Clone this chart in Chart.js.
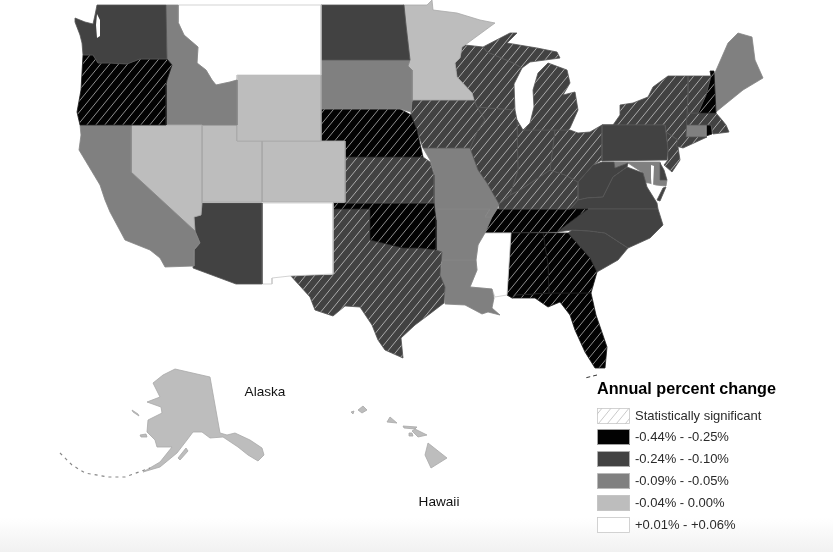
<!DOCTYPE html>
<html><head><meta charset="utf-8">
<style>
html,body{margin:0;padding:0;width:833px;height:552px;overflow:hidden;background:linear-gradient(to bottom,#fff 0,#fff 518px,#f1f1f1 552px);}
#c{position:absolute;left:0;top:0;}
</style>
<script src="https://cdn.jsdelivr.net/npm/chart.js@4"></script>
</head><body>
<div style="position:absolute;left:0;top:0;width:833px;height:552px"><canvas id="c" width="833" height="552"></canvas></div>
<script>
// Map outlines in map units
const WA=[[97,5],[166,5],[167,59],[140,59],[127,64],[110,63],[98,63],[93,55],[83,55],[82,43],[80,35],[75,22],[75,18],[85,22],[93,24],[95,15]];
const OR=[[83,55],[93,55],[98,63],[110,63],[127,64],[140,59],[167,59],[172,65],[167,80],[166,85],[166,125],[80,125],[77,112],[81,90]];
const CA=[[80,125],[131,125],[131,172],[195,231],[200,243],[194,250],[194,266],[165,267],[160,258],[150,250],[125,240],[110,212],[105,200],[100,185],[88,165],[79,150],[81,135]];
const NV=[[131,125],[202,125],[202,203],[201,215],[194,217],[195,231],[131,172]];
const ID=[[166,5],[178,5],[178,22],[184,35],[198,47],[197,63],[206,70],[212,80],[216,85],[230,82],[237,80],[237,125],[166,125],[166,85],[167,80],[172,65],[167,59]];
const MT=[[178,5],[321,5],[321,75],[237,75],[237,80],[230,82],[216,85],[212,80],[206,70],[197,63],[198,47],[184,35],[178,22]];
const WY=[[237,75],[321,75],[321,141],[237,141]];
const UT=[[202,125],[237,125],[237,141],[262,141],[262,202],[202,202]];
const CO=[[262,141],[345,141],[345,202],[262,202]];
const AZ=[[202,203],[262,203],[262,284],[236,284],[193,268],[194,250],[200,243],[195,231],[194,217],[201,215]];
const NM=[[262,203],[333,203],[333,274],[290,276],[272,278],[272,284],[262,284]];
const ND=[[321,5],[404,5],[406,25],[410,60],[321,60]];
const SD=[[321,60],[410,60],[408,66],[412,70],[412,100],[411,112],[400,109],[321,109]];
const NE=[[321,109],[400,109],[411,115],[417,130],[423,157],[345,157],[345,141],[321,141]];
const KS=[[345,157],[423,157],[430,162],[434,175],[434,203],[345,203]];
const OK=[[333,203],[434,203],[436,220],[436,250],[420,248],[403,248],[370,240],[370,209],[333,209]];
const TX=[[333,209],[370,209],[370,240],[403,248],[420,248],[436,250],[442,252],[440,275],[445,287],[444,303],[431,313],[415,325],[401,338],[403,358],[385,350],[378,340],[372,325],[360,307],[345,306],[333,316],[315,310],[310,297],[290,275],[333,275]];
const MN=[[403,5],[427,5],[432,0],[433,10],[457,13],[480,20],[495,23],[465,45],[462,47],[460,58],[455,63],[457,77],[472,93],[474,100],[412,100],[412,70],[408,66],[410,60],[406,25]];
const IA=[[412,100],[474,100],[477,107],[485,120],[478,130],[470,148],[423,148],[417,130],[411,115],[411,112]];
const WI=[[462,47],[465,45],[483,47],[487,52],[513,63],[522,68],[514,84],[515,110],[477,107],[474,100],[472,93],[457,77],[455,63],[460,58]];
const MIU=[[483,47],[510,33],[517,33],[507,43],[537,48],[557,52],[560,58],[545,60],[530,62],[522,68],[513,63],[487,52]];
const MIL=[[548,63],[567,70],[570,83],[563,95],[575,92],[578,110],[570,128],[568,130],[523,130],[530,123],[534,107],[533,90],[538,73]];
const IL=[[477,107],[515,110],[517,120],[518,170],[510,195],[499,204],[495,197],[487,183],[478,170],[470,148],[478,130],[485,120]];
const IN=[[517,120],[523,130],[555,130],[550,170],[535,180],[520,190],[510,195],[518,170]];
const OH=[[555,130],[570,130],[578,133],[590,132],[602,125],[602,160],[593,165],[578,182],[565,175],[550,170]];
const KY=[[510,195],[520,190],[535,180],[550,170],[565,175],[578,182],[578,200],[570,209],[500,209],[499,204]];
const MO=[[423,148],[470,148],[478,170],[487,183],[495,197],[499,204],[497,209],[492,217],[485,217],[490,209],[435,209],[434,173],[430,160]];
const AR=[[435,209],[490,209],[485,217],[492,217],[485,233],[478,245],[476,260],[441,260],[441,252],[436,250],[436,220]];
const LA=[[441,260],[476,260],[477,270],[470,287],[492,289],[494,298],[492,308],[500,315],[488,312],[482,314],[465,305],[445,304],[445,287],[440,275],[442,262]];
const MS=[[482,233],[511,233],[507,295],[495,297],[492,289],[470,287],[477,270],[476,260],[478,245]];
const AL=[[511,233],[543,233],[548,265],[549,293],[516,295],[512,298],[507,295]];
const GA=[[543,233],[568,233],[590,258],[597,272],[591,293],[549,293],[548,265]];
const FL=[[516,295],[549,293],[591,293],[596,315],[607,347],[605,368],[595,368],[585,352],[575,330],[570,315],[560,302],[548,307],[535,298],[512,298]];
const TN=[[500,209],[588,209],[577,217],[557,232],[482,233],[487,220],[492,217],[497,209]];
const NC=[[588,209],[658,209],[663,225],[650,238],[628,248],[605,233],[590,231],[572,230],[557,232],[577,217]];
const SC=[[568,233],[572,230],[590,231],[605,233],[628,248],[618,260],[597,272],[590,258]];
const VA=[[570,209],[658,209],[657,203],[647,187],[643,173],[627,167],[613,177],[603,197],[587,198],[578,200]];
const VAE=[[657,200],[663,188],[666,187],[660,201]];
const WV=[[578,182],[593,165],[602,162],[614,162],[615,168],[628,163],[627,167],[613,177],[603,197],[587,198],[578,200]];
const PA=[[602,125],[665,125],[668,150],[667,160],[602,161]];
const NY=[[602,125],[613,125],[620,115],[620,105],[633,103],[648,97],[653,87],[668,76],[688,76],[688,95],[687,113],[686,137],[707,137],[683,148],[676,146],[678,140],[666,132],[665,125]];
const VT=[[688,76],[711,76],[706,95],[698,113],[687,113],[688,95]];
const NH=[[710,71],[714,71],[716,113],[698,113],[706,95],[711,76]];
const ME=[[714,75],[728,43],[738,33],[752,37],[755,60],[763,78],[743,90],[722,107],[716,112]];
const MA=[[686,113],[716,113],[722,120],[726,125],[729,132],[713,134],[711,125],[686,125]];
const CT=[[686,125],[706,125],[706,137],[686,137]];
const RI=[[706,125],[711,125],[712,134],[706,136]];
const NJ=[[666,132],[678,140],[678,147],[680,160],[672,172],[664,165],[668,160],[668,150]];
const DE=[[660,163],[664,170],[667,180],[660,180]];
const MD=[[614,162],[660,162],[660,180],[667,180],[666,186],[656,185],[649,183],[640,182],[643,173],[628,163],[615,168]];
const AK=[[175,369],[210,377],[220,433],[227,435],[235,433],[250,440],[262,448],[264,455],[258,461],[248,455],[238,447],[223,437],[210,438],[202,432],[193,432],[187,440],[177,453],[160,467],[143,472],[160,462],[172,447],[157,447],[155,440],[147,432],[148,420],[162,413],[161,407],[147,402],[160,397],[153,383],[163,375]];
const AK2=[[178,458],[186,448],[188,451],[180,460]];
const AK3=[[132,410],[138,414],[139,416],[133,412]];
const AK4=[[140,435],[146,434],[147,437],[141,437]];
const HI1=[[428,443],[447,458],[431,468],[425,455]];
const HI2=[[415,429],[427,435],[418,437],[412,431]];
const HI3=[[403,426],[417,427],[415,429],[404,428]];
const HI4=[[409,433],[412,433],[413,436],[409,436]];
const HI5=[[390,417],[397,423],[387,422]];
const HI6=[[363,406],[367,410],[362,413],[358,410]];
const HI7=[[351,412],[354,411],[353,414]];
// Water and small land details
const BAY=[[651,165],[654,166],[653,187],[655,197],[652,190],[651,178]];
const SOUND=[[97,14],[100,20],[100,36],[97,38],[96,25]];
const CHAIN=[[60,453],[72,465],[85,473],[108,477],[125,477],[150,468]];
const KEYS=[[597,375],[585,378]];

const stateNames=["WA","OR","CA","NV","ID","MT","WY","UT","CO","AZ","NM","ND","SD","NE","KS","OK","TX","MN","IA","WI","MI-U","MI-L","IL","IN","OH","KY","MO","AR","LA","MS","AL","GA","FL","TN","NC","SC","VA","VA-E","WV","PA","NY","VT","NH","ME","MA","CT","RI","NJ","DE","MD","AK","AK2","AK3","AK4","HI1","HI2","HI3","HI4","HI5","HI6","HI7"];
const statePaths=[WA,OR,CA,NV,ID,MT,WY,UT,CO,AZ,NM,ND,SD,NE,KS,OK,TX,MN,IA,WI,MIU,MIL,IL,IN,OH,KY,MO,AR,LA,MS,AL,GA,FL,TN,NC,SC,VA,VAE,WV,PA,NY,VT,NH,ME,MA,CT,RI,NJ,DE,MD,AK,AK2,AK3,AK4,HI1,HI2,HI3,HI4,HI5,HI6,HI7];
// class index into legendRanges
const stateClass=[1,0,2,3,2,4,3,3,3,1,4,1,2,0,1,0,1,3,1,1,1,1,1,1,1,1,2,2,2,4,0,0,0,0,1,1,1,1,1,1,1,1,0,2,1,2,0,1,1,2,3,3,3,3,3,3,3,3,3,3,3];
const stateSignificant=[0,1,0,0,0,0,0,0,0,0,0,0,0,1,1,1,1,0,1,1,1,1,1,1,1,1,0,0,0,0,1,1,1,1,0,0,0,0,0,0,1,1,1,0,1,0,0,1,0,0,0,0,0,0,0,0,0,0,0,0,0];

const legendTitle="Annual percent change";
const hatchLabel="Statistically significant";
const legendRanges=["-0.44% - -0.25%","-0.24% - -0.10%","-0.09% - -0.05%","-0.04% - 0.00%","+0.01% - +0.06%"];
const classColors=["#020202","#424242","#808080","#bdbdbd","#ffffff"];
const classBorders=["#1e1e1e","#565656","#858585","#a8a8a8","#c8c8c8"];
const mapLabels=[["Alaska",265,392],["Hawaii",439,502]];

function hatch(base,line){
  const t=document.createElement('canvas');t.width=9;t.height=11;
  const g=t.getContext('2d');
  g.fillStyle=base;g.fillRect(0,0,9,11);
  g.strokeStyle=line;g.lineWidth=0.9;
  g.beginPath();g.moveTo(-9,11);g.lineTo(9,-11);g.moveTo(0,11);g.lineTo(9,0);g.moveTo(9,11);g.lineTo(18,0);g.stroke();
  return g.createPattern(t,'repeat');
}
const toPts=p=>p.concat([p[0]]).map(q=>({x:q[0],y:q[1]}));
const lineOf=(p,color,w,dash)=>({data:p.map(q=>({x:q[0],y:q[1]})),showLine:true,fill:false,borderColor:color,borderWidth:w,borderDash:dash||[],pointRadius:0,order:-1,clip:false});
const datasets=statePaths.map((p,i)=>{
  const base=classColors[stateClass[i]];
  return {label:stateNames[i],data:toPts(p),showLine:true,fill:'shape',
    backgroundColor:stateSignificant[i]?hatch(base,'rgba(255,255,255,0.62)'):base,
    borderColor:classBorders[stateClass[i]],borderWidth:0.8,pointRadius:0,tension:0,clip:false};
});
datasets.push({label:'bay',data:toPts(BAY),showLine:true,fill:'shape',backgroundColor:'#fff',borderWidth:0,pointRadius:0,order:-2});
datasets.push({label:'sound',data:toPts(SOUND),showLine:true,fill:'shape',backgroundColor:'#fff',borderWidth:0,pointRadius:0,order:-2});
datasets.push(lineOf(CHAIN,'#888',1.2,[3,4]));
datasets.push(lineOf(KEYS,'#333',1,[4,3]));

const overlay={id:'overlay',afterDraw(chart){
  const c=chart.ctx,X=chart.scales.x,Y=chart.scales.y;
  const px=v=>X.getPixelForValue(v),py=v=>Y.getPixelForValue(v);
  c.save();
  c.textBaseline='middle';
  c.fillStyle='#111';c.font='13.6px "Liberation Sans"';
  c.textAlign='center';
  mapLabels.forEach(l=>c.fillText(l[0],px(l[1]),py(l[2])));
  c.textAlign='left';
  c.font='bold 16.2px "Liberation Sans"';c.fillStyle='#000';
  c.fillText(legendTitle,px(597),py(390));
  const rows=[hatchLabel].concat(legendRanges);
  const ys=[416,437,459,481,503,525];
  rows.forEach((t,i)=>{
    const yy=py(ys[i]);
    c.fillStyle=i===0?hatch('#ffffff','#c4c4c4'):classColors[i-1];
    c.fillRect(px(597),yy-8,33,16);
    c.strokeStyle='#c8c8c8';c.lineWidth=0.8;c.strokeRect(px(597)+.5,yy-8+.5,32,15);
    c.fillStyle='#2a2a2a';c.font='13px "Liberation Sans"';
    c.fillText(t,px(635),yy);
  });
  c.restore();
}};
new Chart(document.getElementById('c'),{
  type:'scatter',
  data:{datasets},
  options:{responsive:false,devicePixelRatio:1,animation:false,events:[],
    layout:{padding:0},
    plugins:{legend:{display:false},tooltip:{enabled:false},title:{display:false}},
    scales:{x:{type:'linear',min:0,max:833,display:false},y:{type:'linear',min:0,max:552,reverse:true,display:false}}
  },
  plugins:[overlay]
});
</script>
</body></html>
